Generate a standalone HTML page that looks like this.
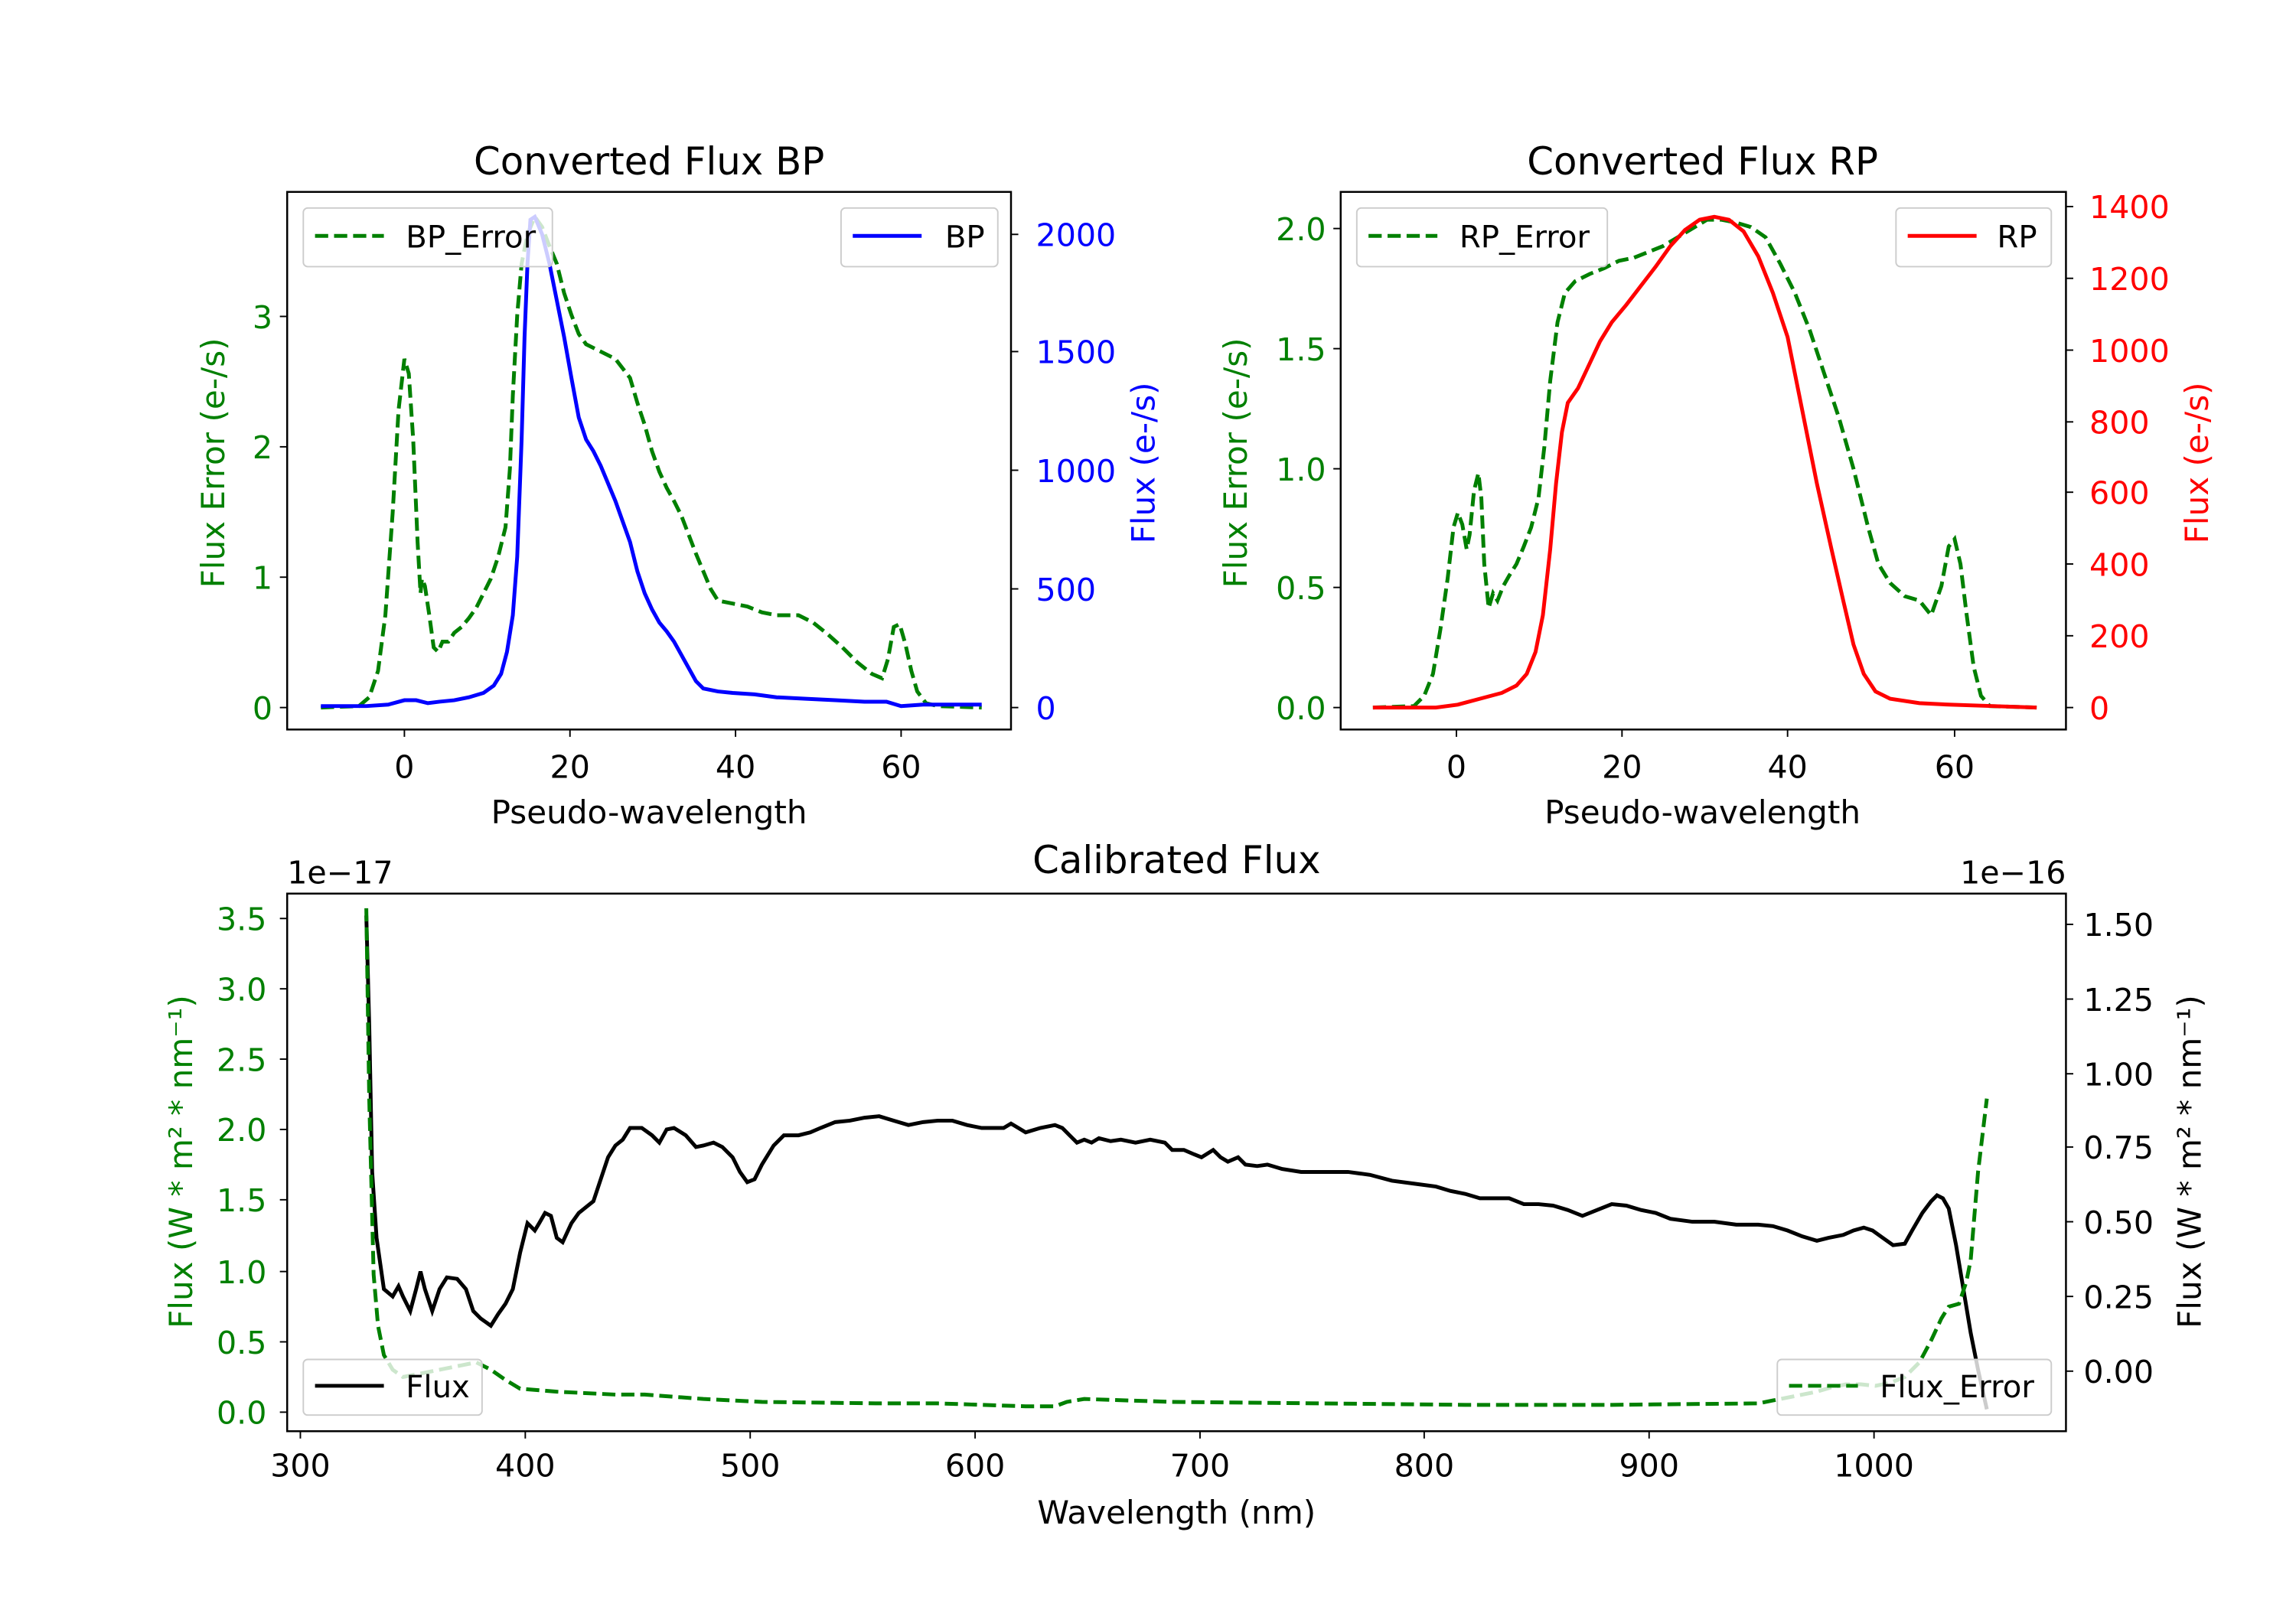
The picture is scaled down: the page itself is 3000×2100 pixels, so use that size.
<!DOCTYPE html>
<html><head><meta charset="utf-8"><style>
html,body{margin:0;padding:0;background:#fff}
svg{display:block}
text{font-family:"DejaVu Sans","Liberation Sans",sans-serif}
</style></head><body>
<svg width="3000" height="2100" viewBox="0 0 1567 1097" preserveAspectRatio="none" xmlns="http://www.w3.org/2000/svg">
<rect width="1567" height="1097" fill="#fff"/>

<!-- ===== BP panel ===== -->
<g>
<polyline fill="none" stroke="#008000" stroke-width="2.6" stroke-dasharray="9,4" points="219,483 245,482 252,476 258,458 263,420 268,350 272,280 276,245 279,255 282,300 285,370 287,405 288,395 290,400 293,420 296,442 299,445 302,438 306,438 310,432 315,428 320,422 325,415 330,405 335,395 340,380 345,360 348,320 350,270 353,215 356,180 360,160 365,148 370,155 375,168 380,180 385,200 390,215 395,228 400,235 410,240 420,245 430,258 435,275 440,290 445,308 450,322 455,333 460,342 465,352 470,365 475,378 480,390 485,402 490,410 500,412 510,414 520,418 530,420 545,420 555,425 565,433 575,442 585,452 595,460 602,463 606,450 610,428 614,426 618,440 622,458 626,472 632,480 640,482 670,483"/>
<polyline fill="none" stroke="#0000ff" stroke-width="2.6" points="219,482 250,482 265,481 276,478 284,478 292,480 300,479 310,478 320,476 330,473 337,468 342,460 346,445 350,420 353,380 356,300 358,230 360,180 362,150 365,148 370,160 375,180 380,205 385,230 390,258 395,285 400,300 405,308 410,318 415,330 420,342 425,356 430,370 435,390 440,405 445,416 450,425 455,431 460,438 465,447 470,456 475,465 480,470 490,472 500,473 515,474 530,476 550,477 570,478 590,479 605,479 615,482 630,481 650,481 670,481"/>
<rect x="196" y="131" width="494" height="367" fill="none" stroke="#000" stroke-width="1.3"/>
<g stroke="#000" stroke-width="1">
<line x1="276" y1="498" x2="276" y2="503"/><line x1="389" y1="498" x2="389" y2="503"/><line x1="502" y1="498" x2="502" y2="503"/><line x1="615" y1="498" x2="615" y2="503"/>
<line x1="191" y1="483" x2="196" y2="483"/><line x1="191" y1="394" x2="196" y2="394"/><line x1="191" y1="305" x2="196" y2="305"/><line x1="191" y1="216" x2="196" y2="216"/>
<line x1="690" y1="483" x2="695" y2="483"/><line x1="690" y1="402" x2="695" y2="402"/><line x1="690" y1="321" x2="695" y2="321"/><line x1="690" y1="240" x2="695" y2="240"/><line x1="690" y1="160" x2="695" y2="160"/>
</g>
<g font-size="21.5" text-anchor="middle"><text x="276" y="531">0</text><text x="389" y="531">20</text><text x="502" y="531">40</text><text x="615" y="531">60</text></g>
<g font-size="21.5" text-anchor="end" fill="#008000"><text x="186" y="491">0</text><text x="186" y="402">1</text><text x="186" y="313">2</text><text x="186" y="224">3</text></g>
<g font-size="21.5" fill="#0000ff"><text x="707" y="491">0</text><text x="707" y="410">500</text><text x="707" y="329">1000</text><text x="707" y="248">1500</text><text x="707" y="168">2000</text></g>
<text x="443" y="119" font-size="26" text-anchor="middle">Converted Flux BP</text>
<text x="443" y="562" font-size="22" text-anchor="middle">Pseudo-wavelength</text>
<text transform="translate(153,316) rotate(-90)" font-size="22" text-anchor="middle" fill="#008000">Flux Error (e-/s)</text>
<text transform="translate(788,316) rotate(-90)" font-size="22" text-anchor="middle" fill="#0000ff">Flux (e-/s)</text>
<rect x="207" y="142" width="170" height="40" rx="3" fill="#fff" fill-opacity="0.8" stroke="#ccc"/>
<line x1="215" y1="161" x2="262" y2="161" stroke="#008000" stroke-width="2.6" stroke-dasharray="9,4"/>
<text x="277" y="169" font-size="21">BP_Error</text>
<rect x="574" y="142" width="107" height="40" rx="3" fill="#fff" fill-opacity="0.8" stroke="#ccc"/>
<line x1="582" y1="161" x2="629" y2="161" stroke="#0000ff" stroke-width="2.6"/>
<text x="645" y="169" font-size="21">BP</text>
</g>

<!-- ===== RP panel ===== -->
<g>
<polyline fill="none" stroke="#008000" stroke-width="2.6" stroke-dasharray="9,4" points="937,483 965,482 972,475 978,460 983,430 988,395 992,360 995,350 998,358 1001,375 1003,365 1006,335 1009,323 1011,340 1013,385 1016,415 1019,405 1022,410 1026,400 1030,393 1035,385 1040,373 1045,360 1050,340 1054,305 1058,260 1063,220 1068,200 1075,192 1085,187 1095,183 1105,178 1115,176 1125,172 1135,168 1145,162 1155,156 1165,150 1175,150 1185,152 1195,155 1205,162 1215,180 1225,200 1235,225 1245,255 1255,285 1265,320 1275,360 1282,385 1290,398 1300,407 1310,410 1318,420 1325,400 1330,373 1334,368 1338,385 1342,418 1347,455 1352,475 1358,482 1390,483"/>
<polyline fill="none" stroke="#ff0000" stroke-width="2.6" points="937,483 980,483 995,481 1010,477 1025,473 1035,468 1042,460 1048,445 1053,420 1058,375 1062,330 1066,295 1070,275 1077,265 1085,248 1092,233 1100,220 1110,208 1120,195 1130,182 1140,168 1150,157 1160,150 1170,148 1180,150 1190,158 1200,175 1210,200 1220,230 1225,255 1230,280 1240,330 1250,375 1258,410 1265,440 1272,460 1280,472 1290,477 1310,480 1330,481 1360,482 1390,483"/>
<rect x="915" y="131" width="495" height="367" fill="none" stroke="#000" stroke-width="1.3"/>
<g stroke="#000" stroke-width="1">
<line x1="994" y1="498" x2="994" y2="503"/><line x1="1107" y1="498" x2="1107" y2="503"/><line x1="1220" y1="498" x2="1220" y2="503"/><line x1="1334" y1="498" x2="1334" y2="503"/>
<line x1="910" y1="483" x2="915" y2="483"/><line x1="910" y1="401" x2="915" y2="401"/><line x1="910" y1="320" x2="915" y2="320"/><line x1="910" y1="238" x2="915" y2="238"/><line x1="910" y1="156" x2="915" y2="156"/>
<line x1="1410" y1="483" x2="1415" y2="483"/><line x1="1410" y1="434" x2="1415" y2="434"/><line x1="1410" y1="385" x2="1415" y2="385"/><line x1="1410" y1="336" x2="1415" y2="336"/><line x1="1410" y1="288" x2="1415" y2="288"/><line x1="1410" y1="239" x2="1415" y2="239"/><line x1="1410" y1="190" x2="1415" y2="190"/><line x1="1410" y1="141" x2="1415" y2="141"/>
</g>
<g font-size="21.5" text-anchor="middle"><text x="994" y="531">0</text><text x="1107" y="531">20</text><text x="1220" y="531">40</text><text x="1334" y="531">60</text></g>
<g font-size="21.5" text-anchor="end" fill="#008000"><text x="905" y="491">0.0</text><text x="905" y="409">0.5</text><text x="905" y="328">1.0</text><text x="905" y="246">1.5</text><text x="905" y="164">2.0</text></g>
<g font-size="21.5" fill="#ff0000"><text x="1426" y="491">0</text><text x="1426" y="442">200</text><text x="1426" y="393">400</text><text x="1426" y="344">600</text><text x="1426" y="296">800</text><text x="1426" y="247">1000</text><text x="1426" y="198">1200</text><text x="1426" y="149">1400</text></g>
<text x="1162" y="119" font-size="26" text-anchor="middle">Converted Flux RP</text>
<text x="1162" y="562" font-size="22" text-anchor="middle">Pseudo-wavelength</text>
<text transform="translate(851,316) rotate(-90)" font-size="22" text-anchor="middle" fill="#008000">Flux Error (e-/s)</text>
<text transform="translate(1507,316) rotate(-90)" font-size="22" text-anchor="middle" fill="#ff0000">Flux (e-/s)</text>
<rect x="926" y="142" width="171" height="40" rx="3" fill="#fff" fill-opacity="0.8" stroke="#ccc"/>
<line x1="934" y1="161" x2="981" y2="161" stroke="#008000" stroke-width="2.6" stroke-dasharray="9,4"/>
<text x="996" y="169" font-size="21">RP_Error</text>
<rect x="1294" y="142" width="106" height="40" rx="3" fill="#fff" fill-opacity="0.8" stroke="#ccc"/>
<line x1="1302" y1="161" x2="1349" y2="161" stroke="#ff0000" stroke-width="2.6"/>
<text x="1363" y="169" font-size="21">RP</text>
</g>

<!-- ===== Calibrated panel ===== -->
<g>
<polyline fill="none" stroke="#000" stroke-width="2.6" points="250,625 252,700 254,800 257,845 262,880 268,885 272,878 275,885 280,895 284,880 287,868 290,880 295,895 300,880 305,872 312,873 318,880 323,895 328,900 335,905 340,897 345,890 350,880 355,855 360,835 365,840 368,835 372,828 376,830 380,845 384,848 390,835 395,828 405,820 410,805 415,790 420,782 425,778 430,770 438,770 445,775 450,780 455,771 460,770 468,775 475,783 480,782 487,780 493,783 500,790 505,800 510,807 515,805 520,795 528,782 535,775 545,775 553,773 560,770 570,766 580,765 590,763 600,762 610,765 620,768 630,766 640,765 650,765 660,768 670,770 680,770 685,770 690,767 695,770 700,773 710,770 720,768 725,770 730,775 735,780 740,778 745,780 750,777 758,779 765,778 775,780 785,778 795,780 800,785 808,785 815,788 820,790 828,785 833,790 838,793 845,790 850,795 858,796 865,795 875,798 888,800 900,800 920,800 935,802 950,806 965,808 980,810 990,813 1000,815 1010,818 1020,818 1030,818 1040,822 1050,822 1060,823 1070,826 1080,830 1090,826 1100,822 1110,823 1120,826 1130,828 1140,832 1155,834 1170,834 1185,836 1200,836 1210,837 1220,840 1230,844 1240,847 1248,845 1258,843 1265,840 1272,838 1278,840 1285,845 1292,850 1300,849 1305,840 1312,828 1318,820 1322,816 1326,818 1330,825 1335,850 1340,880 1345,910 1350,935 1356,962"/>
<polyline fill="none" stroke="#008000" stroke-width="2.6" stroke-dasharray="9,4" points="250,620 252,750 255,870 258,905 262,925 268,935 275,940 285,938 300,935 315,932 325,930 335,935 345,942 355,948 380,950 420,952 440,952 480,955 520,957 600,958 640,958 700,960 720,960 728,957 740,955 800,957 900,958 1000,959 1100,959 1200,958 1210,956 1225,953 1240,950 1250,947 1260,945 1270,945 1280,946 1290,944 1300,940 1310,930 1318,915 1325,900 1330,892 1337,890 1342,875 1345,860 1350,800 1356,750"/>
<rect x="196" y="610" width="1214" height="367" fill="none" stroke="#000" stroke-width="1.3"/>
<g stroke="#000" stroke-width="1">
<line x1="205" y1="977" x2="205" y2="982"/><line x1="358.5" y1="977" x2="358.5" y2="982"/><line x1="512" y1="977" x2="512" y2="982"/><line x1="665.5" y1="977" x2="665.5" y2="982"/><line x1="819" y1="977" x2="819" y2="982"/><line x1="972" y1="977" x2="972" y2="982"/><line x1="1125.5" y1="977" x2="1125.5" y2="982"/><line x1="1279" y1="977" x2="1279" y2="982"/>
<line x1="191" y1="964" x2="196" y2="964"/><line x1="191" y1="916" x2="196" y2="916"/><line x1="191" y1="868" x2="196" y2="868"/><line x1="191" y1="819" x2="196" y2="819"/><line x1="191" y1="771" x2="196" y2="771"/><line x1="191" y1="723" x2="196" y2="723"/><line x1="191" y1="675" x2="196" y2="675"/><line x1="191" y1="627" x2="196" y2="627"/>
<line x1="1410" y1="936" x2="1415" y2="936"/><line x1="1410" y1="885" x2="1415" y2="885"/><line x1="1410" y1="834" x2="1415" y2="834"/><line x1="1410" y1="783" x2="1415" y2="783"/><line x1="1410" y1="733" x2="1415" y2="733"/><line x1="1410" y1="682" x2="1415" y2="682"/><line x1="1410" y1="631" x2="1415" y2="631"/>
</g>
<g font-size="21.5" text-anchor="middle"><text x="205" y="1008">300</text><text x="358.5" y="1008">400</text><text x="512" y="1008">500</text><text x="665.5" y="1008">600</text><text x="819" y="1008">700</text><text x="972" y="1008">800</text><text x="1125.5" y="1008">900</text><text x="1279" y="1008">1000</text></g>
<g font-size="21.5" text-anchor="end" fill="#008000"><text x="182" y="972">0.0</text><text x="182" y="924">0.5</text><text x="182" y="876">1.0</text><text x="182" y="827">1.5</text><text x="182" y="779">2.0</text><text x="182" y="731">2.5</text><text x="182" y="683">3.0</text><text x="182" y="635">3.5</text></g>
<g font-size="21.5"><text x="1422" y="944">0.00</text><text x="1422" y="893">0.25</text><text x="1422" y="842">0.50</text><text x="1422" y="791">0.75</text><text x="1422" y="741">1.00</text><text x="1422" y="690">1.25</text><text x="1422" y="639">1.50</text></g>
<text x="196" y="603" font-size="21.5">1e−17</text>
<text x="1410" y="603" font-size="21.5" text-anchor="end">1e−16</text>
<text x="803" y="596" font-size="26" text-anchor="middle">Calibrated Flux</text>
<text x="803" y="1040" font-size="22" text-anchor="middle">Wavelength (nm)</text>
<text transform="translate(131,793) rotate(-90)" font-size="22" text-anchor="middle" fill="#008000">Flux (W * m² * nm⁻¹)</text>
<text transform="translate(1502,793) rotate(-90)" font-size="22" text-anchor="middle">Flux (W * m² * nm⁻¹)</text>
<rect x="207" y="928" width="122" height="38" rx="3" fill="#fff" fill-opacity="0.8" stroke="#ccc"/>
<line x1="215" y1="946" x2="262" y2="946" stroke="#000" stroke-width="2.6"/>
<text x="277" y="954" font-size="21">Flux</text>
<rect x="1213" y="928" width="187" height="38" rx="3" fill="#fff" fill-opacity="0.8" stroke="#ccc"/>
<line x1="1221" y1="946" x2="1268" y2="946" stroke="#008000" stroke-width="2.6" stroke-dasharray="9,4"/>
<text x="1283" y="954" font-size="21">Flux_Error</text>
</g>
</svg>
</body></html>
